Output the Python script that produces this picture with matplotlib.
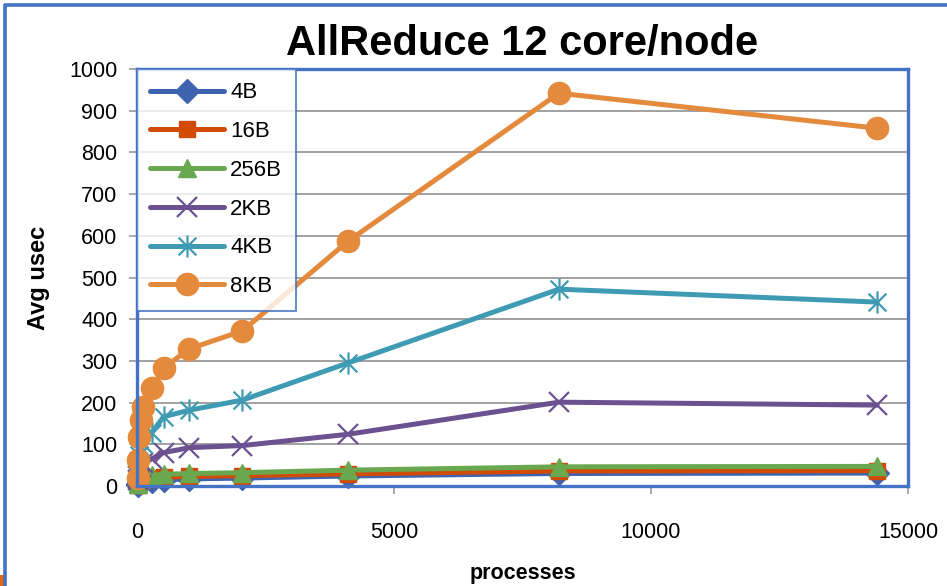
import matplotlib
matplotlib.use("Agg")
import matplotlib.pyplot as plt
from matplotlib.path import Path
from matplotlib.lines import Line2D
from matplotlib.patches import Rectangle

# data
processes = [12, 24, 48, 72, 120, 288, 516, 1020, 2052, 4104, 8208, 14400]
labels = ["4B", "16B", "256B", "2KB", "4KB", "8KB"]
usec_4b = [2, 4, 6, 9, 11, 13, 15, 17, 19, 24, 30, 31]
usec_16b = [3, 6, 10, 14, 17, 19, 21, 23, 25, 29, 36, 37]
usec_256b = [5, 10, 15, 20, 24, 26, 28, 30, 32, 38, 46, 47]
usec_2kb = [15, 25, 35, 45, 55, 65, 80, 92, 97, 124, 201, 194]
usec_4kb = [40, 60, 75, 90, 100, 128, 166, 182, 206, 295, 472, 441]
usec_8kb = [19, 62, 117, 158, 190, 235, 283, 329, 372, 587, 942, 858]
yticks = [0, 100, 200, 300, 400, 500, 600, 700, 800, 900, 1000]
xticks = [0, 5000, 10000, 15000]

BLUE = "#4472C4"
plt.rcParams['font.family'] = ['Liberation Sans', 'DejaVu Sans']

# excel style "star" marker: x with a vertical bar
star = Path([(0, -1), (0, 1), (-0.8, -0.8), (0.8, 0.8), (-0.8, 0.8), (0.8, -0.8)],
            [Path.MOVETO, Path.LINETO, Path.MOVETO, Path.LINETO, Path.MOVETO, Path.LINETO])

series = [
    (usec_4b, '#3F63AE', 'D', 12, 1),
    (usec_16b, '#D14B06', 's', 12, 1),
    (usec_256b, '#6AA84F', '^', 13, 1),
    (usec_2kb, '#6C5191', 'x', 14, 1.6),
    (usec_4kb, '#3E9BB3', star, 16, 1.6),
    (usec_8kb, '#E38A3C', 'o', 16, 1),
]

fig = plt.figure(figsize=(9.47, 5.86), dpi=100)
ax = fig.add_axes([137 / 947, 1 - 486 / 586, (908 - 137) / 947, (486 - 69) / 586])

for (vals, col, mk, ms, mew), lab in zip(series, labels):
    ax.plot(processes, vals, color=col, lw=3.6, marker=mk, ms=ms,
            mfc=col, mec=col, mew=mew, label=lab, solid_capstyle='round',
            clip_on=False)

ax.set_xlim(0, 15000)
ax.set_ylim(0, 1000)
ax.set_xticks(xticks)
ax.set_yticks(yticks)
ax.yaxis.grid(True, color='#9A9A9A', lw=1.3)
ax.set_axisbelow(True)
ax.tick_params(axis='x', labelsize=15.5, length=6, width=1.2, color='#9A9A9A', pad=20)
ax.tick_params(axis='y', labelsize=15.5, length=6, width=1.2, color='#9A9A9A', pad=8)
for sp in ax.spines.values():
    sp.set_color(BLUE)
    sp.set_linewidth(2.4)

ax.set_xlabel("processes", fontsize=15.5, fontweight='bold', labelpad=14)
ax.set_ylabel("Avg usec", fontsize=17, fontweight='bold')
ax.yaxis.set_label_coords(-0.113, 0.5)

fig.text(522 / 947, 1 - 44 / 586, "AllReduce 12 core/node", ha='center', va='center',
         fontsize=30, fontweight='bold')

leg = ax.legend(loc='upper left', bbox_to_anchor=(0, 1), borderaxespad=0,
                fontsize=16, frameon=True, fancybox=False, handlelength=3.3,
                labelspacing=0.8, handletextpad=0.3, borderpad=0.6)
leg.get_frame().set_edgecolor(BLUE)
leg.get_frame().set_linewidth(1.5)
leg.set_zorder(5)

# outer chart border
fig.add_artist(Line2D([5 / 947, 5 / 947, 1], [0, 1 - 5 / 586, 1 - 5 / 586],
                      transform=fig.transFigure, color=BLUE, lw=2.6))
fig.add_artist(Rectangle((0, 0), 5 / 947, 11 / 586, transform=fig.transFigure,
                         color='#E36C0A', lw=0))

fig.savefig("out.png", dpi=100)
